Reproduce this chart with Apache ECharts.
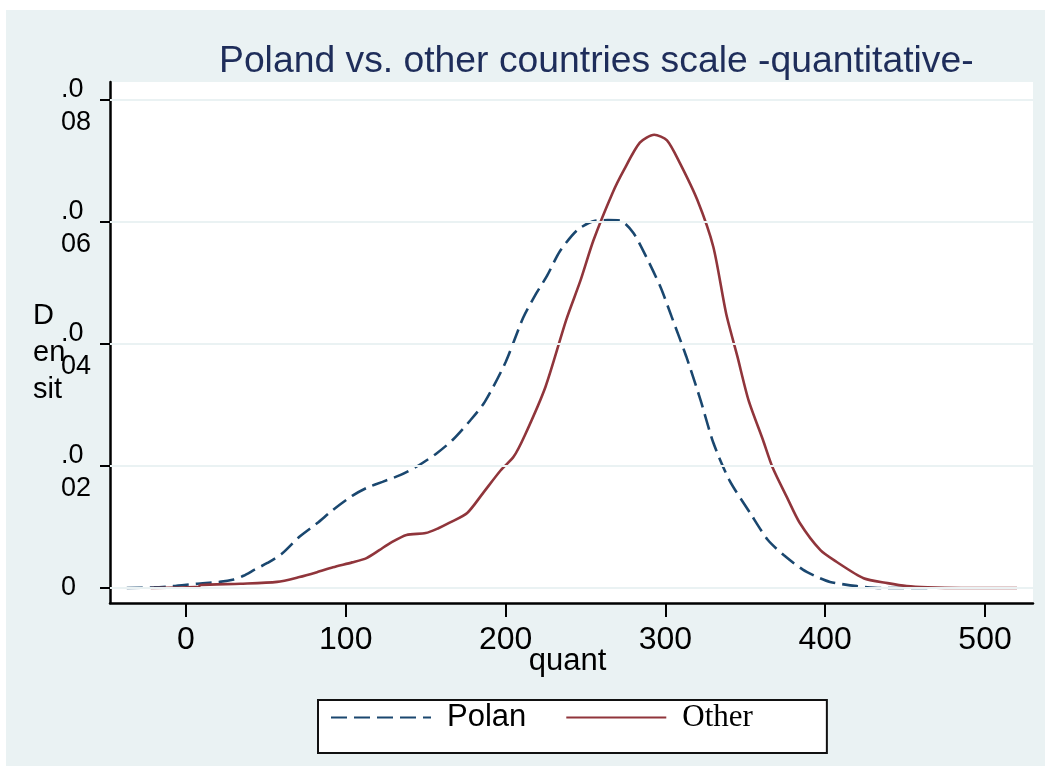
<!DOCTYPE html>
<html>
<head>
<meta charset="utf-8">
<title>Poland vs. other countries scale -quantitative-</title>
<script src="https://cdn.jsdelivr.net/npm/echarts@6/dist/echarts.min.js"></script>
<style>
  html, body { margin: 0; padding: 0; background: #ffffff; }
  #panel { position: absolute; left: 6px; top: 10px; width: 1039px; height: 756px; background: #eaf2f3; }
  #chart { position: absolute; left: 0; top: 0; width: 1051px; height: 771px; }
</style>
</head>
<body>
<div id="panel"></div>
<div id="chart"></div>
<script>
// Kernel density estimates of the quantitative scale score
const polandX = [-37, -20, -8, 7, 21, 30, 36, 43, 51, 60, 71, 82, 92, 104, 113, 123, 134, 145, 157, 167, 178, 187,
  200, 211, 219, 226, 234, 245, 256, 264, 272, 280, 288, 297, 304, 313, 322, 330, 340, 353, 364, 374, 386, 395, 403,
  420, 436, 464];
const polandDensity = [0, 0.0001, 0.0003, 0.0007, 0.0010, 0.0014, 0.0020, 0.0030, 0.0041, 0.0056, 0.0084, 0.0106,
  0.0128, 0.0151, 0.0164, 0.0174, 0.0185, 0.0200, 0.0221, 0.0243, 0.0275, 0.0305, 0.0370, 0.0443, 0.0482, 0.0512,
  0.0552, 0.0587, 0.0602, 0.0603, 0.0602, 0.0582, 0.0543, 0.0493, 0.0444, 0.0380, 0.0308, 0.0238, 0.0177, 0.0123,
  0.0079, 0.0054, 0.0030, 0.0018, 0.0010, 0.0003, 0, 0];

const otherX = [-22, 8, 9, 34, 57, 71, 82, 92, 104, 113, 121, 128, 138, 150, 158, 165, 176, 186, 197, 205, 212, 225,
  238, 247, 255, 267, 274, 284, 293, 301, 309, 320, 330, 338, 345, 352, 361, 367, 376, 384, 397, 407, 424, 439, 451,
  464, 485, 520];
const otherDensity = [0, 0.0002, 0.0005, 0.0007, 0.0010, 0.0018, 0.0026, 0.0034, 0.0042, 0.0049, 0.0062, 0.0074,
  0.0087, 0.0090, 0.0098, 0.0107, 0.0123, 0.0156, 0.0193, 0.0215, 0.0250, 0.0330, 0.0440, 0.0505, 0.0570, 0.0648,
  0.0685, 0.0730, 0.0743, 0.0734, 0.0697, 0.0636, 0.0559, 0.0450, 0.0380, 0.0308, 0.0243, 0.0198, 0.0149, 0.0107,
  0.0062, 0.0043, 0.0016, 0.0008, 0.0003, 0.0001, 0, 0];

const xTicks = [0, 100, 200, 300, 400, 500];
const yTicks = [0, 0.02, 0.04, 0.06, 0.08];
const yTickLabels = ['0', '.0\n02', '.0\n04', '.0\n06', '.0\n08'];

const seriesNames = ['Polan', 'Other'];
const navy = '#1a476f';
const maroon = '#90353b';
const sans = '"Liberation Sans", Arial, sans-serif';
const serif = '"Liberation Serif", "Times New Roman", serif';

const pairs = (xs, ys) => xs.map((x, i) => [x, ys[i]]);

// two-line tick labels: first line sits on the tick, second hangs below it
const yLabelText = (v) => {
  const i = yTicks.findIndex((t) => Math.abs(t - v) < 1e-9);
  if (i < 0) return '';
  const parts = yTickLabels[i].split('\n');
  if (parts.length === 1) return '{z|' + parts[0] + '}';
  return '{a|' + parts[0] + '}\n{b|' + parts[1] + '}';
};
const yLabelFont = { fontFamily: sans, fontSize: 27, color: '#000000', align: 'left' };

const chart = echarts.init(document.getElementById('chart'), null, { renderer: 'canvas' });

chart.setOption({
  backgroundColor: 'transparent',
  animation: false,
  title: [
    {
      text: 'Poland vs. other countries scale -quantitative-',
      left: 219,
      top: 43,
      padding: 0,
      textStyle: { fontFamily: sans, fontSize: 37.3, fontWeight: 'normal', color: '#1e2d5a' }
    },
    {
      // y-axis title, wrapped into a narrow column
      text: 'D\nen\nsit',
      left: 33,
      top: 297,
      padding: 0,
      textStyle: { fontFamily: sans, fontSize: 29, lineHeight: 37, fontWeight: 'normal', color: '#000000' }
    }
  ],
  grid: {
    left: 110, right: 18, top: 82, bottom: 168,
    show: true, backgroundColor: '#ffffff', borderWidth: 0,
    containLabel: false
  },
  legend: {
    left: 318, top: 700,
    orient: 'horizontal',
    itemWidth: 100, itemHeight: 14, itemGap: 39,
    padding: [2, 74, 20, 12],
    backgroundColor: '#ffffff',
    borderColor: '#111111', borderWidth: 2, borderRadius: 0,
    itemStyle: { opacity: 0 },
    textStyle: { fontFamily: sans, fontSize: 31, color: '#000000', padding: [0, 0, 0, 11] },
    data: [
      { name: seriesNames[0] },
      { name: seriesNames[1], textStyle: { fontFamily: serif, fontSize: 31, color: '#000000', padding: [0, 0, 0, 11] } }
    ]
  },
  xAxis: {
    type: 'value',
    min: -47.5, max: 530,
    name: 'quant',
    nameLocation: 'middle',
    nameGap: 43,
    nameMoveOverlap: false,
    nameTextStyle: { fontFamily: sans, fontSize: 31, color: '#000000', padding: [0, 8, 0, 0] },
    axisLine: { show: true, onZero: false, lineStyle: { color: '#000000', width: 2.5 } },
    axisTick: { show: true, length: 14, customValues: xTicks, lineStyle: { color: '#000000', width: 2 } },
    axisLabel: {
      customValues: xTicks, margin: 21,
      fontFamily: sans, fontSize: 32, color: '#000000'
    },
    splitLine: { show: false }
  },
  yAxis: {
    type: 'value',
    min: -0.00246, max: 0.08295,
    axisLine: { show: true, onZero: false, lineStyle: { color: '#000000', width: 2.5 } },
    axisTick: { show: true, length: 10, customValues: yTicks, lineStyle: { color: '#000000', width: 2 } },
    axisLabel: {
      customValues: yTicks,
      margin: 49,
      align: 'left',
      verticalAlign: 'middle',
      fontFamily: sans, fontSize: 27, color: '#000000',
      formatter: yLabelText,
      rich: {
        a: Object.assign({ lineHeight: 46 }, yLabelFont),
        b: Object.assign({ lineHeight: 20 }, yLabelFont),
        z: Object.assign({ lineHeight: 27 }, yLabelFont)
      }
    },
    splitLine: { show: false }
  },
  series: [
    {
      // horizontal grid lines at the labelled density ticks
      type: 'line',
      data: [],
      silent: true,
      z: 1,
      markLine: {
        silent: true,
        symbol: 'none',
        animation: false,
        label: { show: false },
        lineStyle: { color: '#eaf2f3', width: 2, type: 'solid' },
        data: yTicks.map((v) => ({ yAxis: v }))
      }
    },
    {
      name: seriesNames[0],
      type: 'line',
      data: pairs(polandX, polandDensity),
      showSymbol: false,
      symbol: 'none',
      smooth: 0.25,
      z: 3,
      lineStyle: { color: navy, width: 2.6, type: [16, 7] },
      itemStyle: { color: navy }
    },
    {
      name: seriesNames[1],
      type: 'line',
      data: pairs(otherX, otherDensity),
      showSymbol: false,
      symbol: 'none',
      smooth: 0.25,
      z: 4,
      lineStyle: { color: maroon, width: 2.6, type: 'solid' },
      itemStyle: { color: maroon }
    }
  ]
});
</script>
</body>
</html>
